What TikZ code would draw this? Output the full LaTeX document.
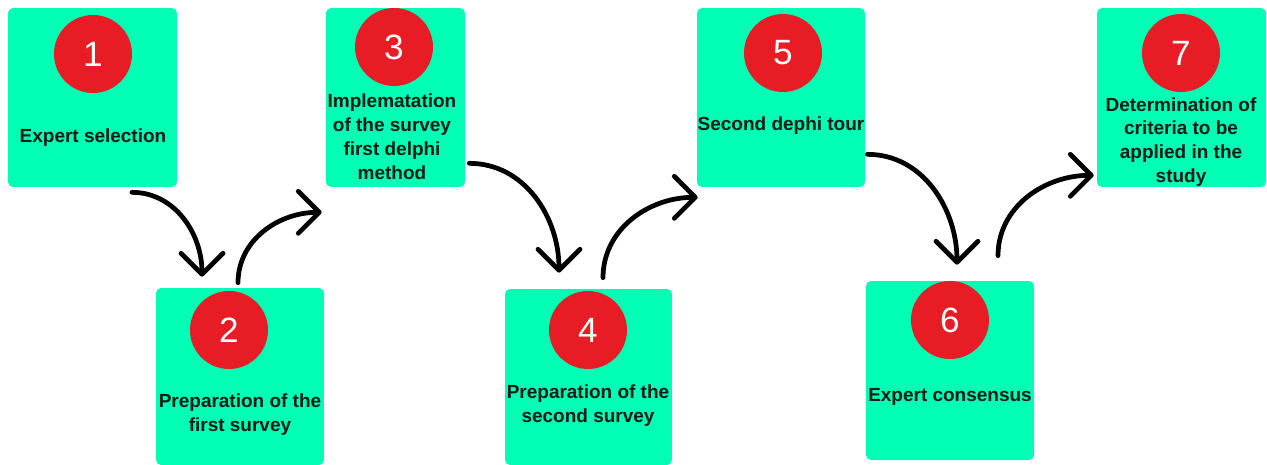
\documentclass[tikz,border=0pt]{standalone}
\usepackage{fontspec}
\setmainfont{Liberation Sans}
\usetikzlibrary{arrows.meta,calc}

\definecolor{mint}{RGB}{0,255,180}
\definecolor{dotred}{RGB}{232,28,36}
\definecolor{ink}{RGB}{12,28,22}

\begin{document}
\begin{tikzpicture}[x=0.02cm,y=0.02cm,>={Straight Barb[length=0.42cm,width=0.84cm,round]},
  every node/.style={font=\bfseries\fontsize{10.8}{13.6}\selectfont},
  stepbox/.style={fill=mint,rounded corners=0.1cm,inner sep=0pt,minimum width=3.36cm,minimum height=3.58cm},
  numdot/.style={circle,fill=dotred,minimum size=1.56cm,inner sep=0pt,text=white,font=\mdseries\fontsize{20}{20}\selectfont},
  steptxt/.style={align=center,text=ink,inner sep=0pt},
  flow/.style={->,line width=0.095cm,line cap=round}]
\useasboundingbox (0,0) rectangle (1267,-465);
% boxes
\node[stepbox,minimum width=3.38cm] (b1) at (92.5,-97.5) {};
\node[stepbox,minimum height=3.54cm] (b2) at (240,-376.5) {};
\node[stepbox,minimum width=2.78cm] (b3) at (395.5,-97.5) {};
\node[stepbox,minimum width=3.34cm,minimum height=3.52cm] (b4) at (588.5,-377) {};
\node[stepbox] (b5) at (781,-97.5) {};
\node[stepbox] (b6) at (950,-370.5) {};
\node[stepbox,minimum width=3.38cm] (b7) at (1181.5,-97.5) {};
% numbers
\node[numdot] (n1) at (93,-54) {1};
\node[numdot] (n2) at (229,-330) {2};
\node[numdot] (n3) at (394,-47) {3};
\node[numdot] (n4) at (588,-330) {4};
\node[numdot] (n5) at (783,-53) {5};
\node[numdot] (n6) at (950,-320) {6};
\node[numdot] (n7) at (1181,-53) {7};
% labels
\node[steptxt] (t1) at (93,-137.5) {Expert selection};
\node[steptxt] (t2) at (240,-414.5) {Preparation of the\\first survey};
\node[steptxt] (t3) at (392,-137) {Implematation\\of the survey\\first delphi\\method};
\node[steptxt] (t4) at (588,-406) {Preparation of the\\second survey};
\node[steptxt] (t5) at (781,-125.5) {Second dephi tour};
\node[steptxt] (t6) at (950,-396.5) {Expert consensus};
\node[steptxt] (t7) at (1181,-142) {Determination of\\criteria to be\\applied in the\\study};
% arrows
\draw[flow] ($(b1.south)+(39.5,-5)$) to[out=0,in=90] ($(b2.north)+(-38,11)$);
\draw[flow] ($(b2.north)+(-2,5)$) to[out=90,in=180] ($(b3.south west)+(-4,-25)$);
\draw[flow] ($(b3.south east)+(4,24)$) to[out=0,in=90] ($(b4.north)+(-29.5,16)$);
\draw[flow] ($(b4.north)+(14.5,11)$) to[out=90,in=180] ($(b5.south west)+(1,-10)$);
\draw[flow] ($(b5.south east)+(2,33)$) to[out=0,in=90] ($(b6.north)+(7,16)$);
\draw[flow] ($(b6.north)+(48,25)$) to[out=90,in=180] ($(b7.south west)+(-3,12)$);
\end{tikzpicture}
\end{document}
